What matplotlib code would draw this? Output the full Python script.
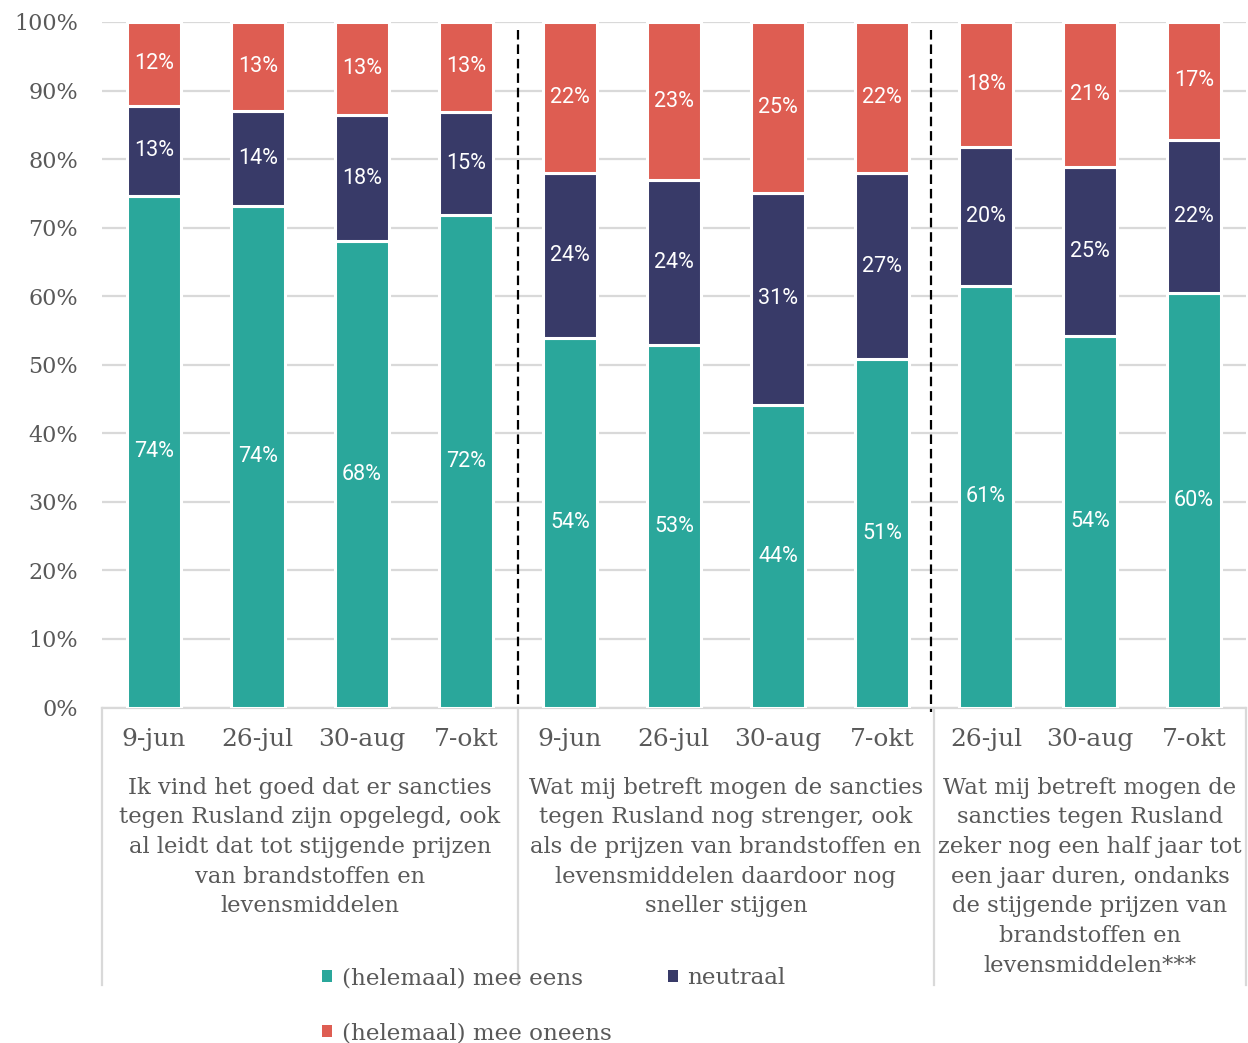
import matplotlib
matplotlib.use('Agg')
import matplotlib.pyplot as plt
from matplotlib.patches import Patch
from matplotlib.ticker import MultipleLocator, FuncFormatter
import numpy as np

plt.rcParams['font.family'] = ['DejaVu Serif']

# ---------------- data ----------------
dates = ['9-jun', '26-jul', '30-aug', '7-okt',
         '9-jun', '26-jul', '30-aug', '7-okt',
         '26-jul', '30-aug', '7-okt']
group_sizes = [4, 4, 3]
group_titles = [
    "Ik vind het goed dat er sancties\ntegen Rusland zijn opgelegd, ook\nal leidt dat tot stijgende prijzen\nvan brandstoffen en\nlevensmiddelen",
    "Wat mij betreft mogen de sancties\ntegen Rusland nog strenger, ook\nals de prijzen van brandstoffen en\nlevensmiddelen daardoor nog\nsneller stijgen",
    "Wat mij betreft mogen de\nsancties tegen Rusland\nzeker nog een half jaar tot\neen jaar duren, ondanks\nde stijgende prijzen van\nbrandstoffen en\nlevensmiddelen***",
]
series_names = ['(helemaal) mee eens', 'neutraal', '(helemaal) mee oneens']

eens = [74.6, 73.2, 68.0, 71.9, 53.9, 52.9, 44.2, 50.9, 61.5, 54.2, 60.5]
neutraal = [13.2, 13.8, 18.4, 15.0, 24.0, 24.0, 30.8, 27.0, 20.2, 24.6, 22.3]
oneens = [12.2, 13.0, 13.6, 13.1, 22.1, 23.1, 25.0, 22.1, 18.3, 21.2, 17.2]

lab_eens = ['74%', '74%', '68%', '72%', '54%', '53%', '44%', '51%', '61%', '54%', '60%']
lab_neutraal = ['13%', '14%', '18%', '15%', '24%', '24%', '31%', '27%', '20%', '25%', '22%']
lab_oneens = ['12%', '13%', '13%', '13%', '22%', '23%', '25%', '22%', '18%', '21%', '17%']

# ---------------- style ----------------
c_teal = '#2AA79B'
c_navy = '#383A68'
c_red = '#DE5D52'
c_grid = '#D9D9D9'
c_text = '#595959'

W, H = 1248, 1043
fig = plt.figure(figsize=(W / 100, H / 100), dpi=100)
ax = fig.add_axes([101.7 / W, 1 - 707.5 / H, (1246 - 101.7) / W, 685.5 / H])

x = np.arange(len(dates))
eens_a = np.array(eens)
neu_a = np.array(neutraal)
one_a = np.array(oneens)

kw = dict(width=0.52, edgecolor='white', linewidth=2.2, zorder=3)
b1 = ax.bar(x, eens_a, color=c_teal, **kw)
b2 = ax.bar(x, neu_a, bottom=eens_a, color=c_navy, **kw)
b3 = ax.bar(x, one_a, bottom=eens_a + neu_a, color=c_red, **kw)

for cont, labs in [(b1, lab_eens), (b2, lab_neutraal), (b3, lab_oneens)]:
    ax.bar_label(cont, labels=labs, label_type='center', color='white',
                 fontsize=15.5, family=['Roboto', 'DejaVu Sans'], zorder=5)

ax.set_xlim(-0.5, len(dates) - 0.5)
ax.set_ylim(0, 100)
ax.yaxis.set_major_locator(MultipleLocator(10))
ax.yaxis.set_major_formatter(FuncFormatter(lambda v, p: f"{v:.0f}%"))
ax.set_xticks(x)
ax.set_xticklabels(dates)
ax.grid(axis='y', color=c_grid, linewidth=1.6, zorder=0)
ax.set_axisbelow(True)
for s in ['top', 'right', 'left']:
    ax.spines[s].set_visible(False)
ax.spines['bottom'].set_color(c_grid)
ax.spines['bottom'].set_linewidth(1.6)
ax.tick_params(axis='both', length=0, colors=c_text)
ax.tick_params(axis='y', pad=17, labelsize=16)
ax.tick_params(axis='x', pad=15, labelsize=18)

# group boundaries
bounds = np.concatenate([[0], np.cumsum(group_sizes)]) - 0.5
for i, xb in enumerate(bounds):
    ax.plot([xb, xb], [0, -0.405], transform=ax.get_xaxis_transform(),
            color=c_grid, lw=1.6, clip_on=False, zorder=1)

# dashed separators inside the plot
for xb, ybot in [(bounds[1], 0.0), (bounds[2] - 0.03, -0.7)]:
    ax.plot([xb, xb], [98.8, ybot], color='black', lw=1.6, dashes=(4.3, 2.2),
            clip_on=False, zorder=6)

# group titles
for i, t in enumerate(group_titles):
    c = (bounds[i] + bounds[i + 1]) / 2
    ax.text(c, -0.101, t, transform=ax.get_xaxis_transform(), ha='center',
            va='top', fontsize=16.3, color=c_text, linespacing=1.45)

# legend (Excel fills row-wise)
handles = [Patch(facecolor=c_teal), Patch(facecolor=c_red), Patch(facecolor=c_navy)]
labels = [series_names[0], series_names[2], series_names[1]]
leg = fig.legend(handles, labels, ncol=2, loc='upper left',
                 bbox_to_anchor=(322 / W, 1 - 967 / H), frameon=False,
                 fontsize=16.6, handlelength=0.45, handleheight=0.45,
                 handletextpad=0.4, columnspacing=2.45, labelspacing=1.45,
                 borderpad=0, borderaxespad=0)
for t in leg.get_texts():
    t.set_color(c_text)

fig.savefig('out.png', dpi=100)
